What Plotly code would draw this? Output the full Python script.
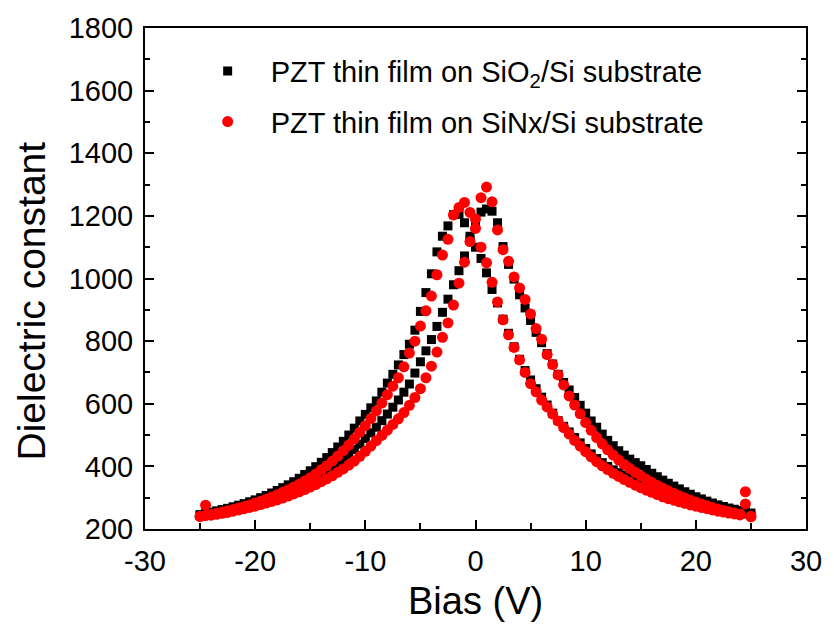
import plotly.graph_objects as go

# Bias sweep points (V)
bias = [-25.0, -24.5, -24.0, -23.5, -23.0, -22.5, -22.0, -21.5, -21.0, -20.5,
        -20.0, -19.5, -19.0, -18.5, -18.0, -17.5, -17.0, -16.5, -16.0, -15.5,
        -15.0, -14.5, -14.0, -13.5, -13.0, -12.5, -12.0, -11.5, -11.0, -10.5,
        -10.0, -9.5, -9.0, -8.5, -8.0, -7.5, -7.0, -6.5, -6.0, -5.5,
        -5.0, -4.5, -4.0, -3.5, -3.0, -2.5, -2.0, -1.5, -1.0, -0.5,
        0.0, 0.5, 1.0, 1.5, 2.0, 2.5, 3.0, 3.5, 4.0, 4.5,
        5.0, 5.5, 6.0, 6.5, 7.0, 7.5, 8.0, 8.5, 9.0, 9.5,
        10.0, 10.5, 11.0, 11.5, 12.0, 12.5, 13.0, 13.5, 14.0, 14.5,
        15.0, 15.5, 16.0, 16.5, 17.0, 17.5, 18.0, 18.5, 19.0, 19.5,
        20.0, 20.5, 21.0, 21.5, 22.0, 22.5, 23.0, 23.5, 24.0, 24.5, 25.0]

# PZT on SiO2/Si : forward sweep (-25 -> 25), values listed at bias order
sio2_fwd = [243, 246, 249, 252, 255, 258, 262, 265, 269, 273,
            277, 282, 287, 292, 298, 304, 311, 318, 325, 334,
            343, 354, 365, 378, 392, 406, 421, 437, 454, 471,
            489, 507, 525, 546, 567, 589, 612, 637, 663, 698,
            734, 769, 805, 847, 892, 934, 980, 1025, 1072, 1122,
            1175, 1212, 1222, 1215, 1178, 1102, 1045, 998, 948, 906,
            866, 828, 795, 760, 727, 694, 668, 644, 620, 595,
            570, 545, 525, 503, 483, 466, 450, 436, 423, 412,
            402, 390, 378, 367, 356, 346, 337, 328, 319, 311,
            303, 296, 289, 283, 277, 272, 267, 263, 259, 255, 251]

# PZT on SiO2/Si : reverse sweep (25 -> -25), values listed at bias order
sio2_rev = [246, 250, 254, 258, 262, 266, 271, 276, 281, 287,
            293, 300, 307, 315, 323, 332, 341, 351, 362, 374,
            386, 399, 413, 428, 444, 462, 480, 500, 522, 545,
            566, 587, 609, 637, 666, 694, 724, 757, 790, 835,
            895, 955, 1015, 1085, 1135, 1168, 1204, 1205, 1178, 1135,
            1100, 1064, 1018, 965, 922, 870, 825, 782, 742, 706,
            676, 648, 621, 596, 570, 546, 528, 510, 492, 475,
            457, 440, 425, 412, 400, 389, 380, 372, 364, 356,
            348, 340, 333, 326, 319, 313, 307, 301, 295, 290,
            285, 280, 275, 271, 267, 263, 259, 255, 252, 248, 245]

# PZT on SiNx/Si : forward sweep
sinx_fwd = [240, 276, 244, 247, 250, 253, 257, 261, 265, 269,
            273, 278, 283, 288, 293, 299, 305, 312, 319, 326,
            334, 342, 351, 360, 370, 381, 392, 404, 417, 432,
            448, 465, 482, 499, 516, 534, 552, 572, 595, 620,
            648, 683, 720, 765, 812, 858, 915, 985, 1052, 1118,
            1190, 1258, 1292, 1245, 1155, 1092, 1055, 1005, 970, 933,
            887, 840, 806, 757, 725, 692, 660, 625, 596, 568,
            540, 515, 492, 472, 453, 436, 420, 406, 393, 381,
            370, 359, 349, 339, 330, 322, 314, 306, 299, 292,
            286, 280, 274, 269, 264, 259, 255, 251, 248, 280, 241]

# PZT on SiNx/Si : reverse sweep
sinx_rev = [240, 243, 246, 250, 254, 258, 262, 267, 272, 277,
            283, 289, 295, 302, 309, 317, 325, 334, 343, 353,
            364, 376, 389, 402, 417, 433, 450, 468, 488, 509,
            530, 553, 577, 602, 629, 656, 683, 718, 762, 800,
            848, 897, 944, 1012, 1075, 1125, 1203, 1227, 1243, 1211,
            1160, 1100, 1050, 988, 925, 868, 820, 780, 740, 700,
            664, 638, 612, 590, 567, 545, 524, 503, 483, 465,
            447, 430, 415, 402, 390, 378, 368, 358, 349, 340,
            332, 324, 317, 310, 303, 297, 292, 287, 282, 277,
            273, 269, 265, 261, 257, 254, 251, 248, 245, 319, 239]

x_ticks = [-30, -20, -10, 0, 10, 20, 30]
x_tick_labels = ["-30", "-20", "-10", "0", "10", "20", "30"]
y_ticks = [200, 400, 600, 800, 1000, 1200, 1400, 1600, 1800]

FONT = "Liberation Sans, Arial, sans-serif"

fig = go.Figure()
fig.add_trace(go.Scatter(
    x=bias + bias, y=sio2_fwd + sio2_rev, mode="markers",
    name="PZT thin film on SiO<sub>2</sub>/Si substrate",
    marker=dict(symbol="square", size=9, color="black", line=dict(width=0)),
    legendgroup="a"))
fig.add_trace(go.Scatter(
    x=bias + bias, y=sinx_fwd + sinx_rev, mode="markers",
    name="PZT thin film on SiNx/Si substrate",
    marker=dict(symbol="circle", size=11, color="#ff0000", line=dict(width=0)),
    legendgroup="b"))

axis_common = dict(
    showline=True, linecolor="black", linewidth=2,
    ticks="inside", ticklen=9, tickwidth=2, tickcolor="black",
    showgrid=False, zeroline=False,
    tickfont=dict(family=FONT, size=29, color="black"),
)

fig.update_xaxes(range=[-30, 30], tickvals=x_ticks, ticktext=x_tick_labels, mirror=True,
                 minor=dict(ticks="inside", ticklen=6, tickwidth=2, dtick=5, tick0=0,
                            tickcolor="black", showgrid=False),
                 ticklabelstandoff=5, **axis_common)
fig.update_yaxes(range=[200, 1800], tickvals=y_ticks, mirror="allticks",
                 minor=dict(ticks="inside", ticklen=5, tickwidth=2, dtick=100, tick0=0,
                            tickcolor="black", showgrid=False),
                 ticklabelstandoff=4, **axis_common)

fig.add_annotation(text="Dielectric constant", xref="paper", yref="paper",
                   x=-0.171, y=0.456, textangle=-90, showarrow=False,
                   xanchor="center", yanchor="middle",
                   font=dict(family=FONT, size=39, color="black"))
fig.add_annotation(text="Bias (V)", xref="paper", yref="paper",
                   x=0.5, y=-0.143, showarrow=False,
                   xanchor="center", yanchor="middle",
                   font=dict(family=FONT, size=38, color="black"))

fig.update_layout(
    width=834, height=630,
    margin=dict(l=145, r=19, t=27, b=101),
    paper_bgcolor="white", plot_bgcolor="white",
    showlegend=True,
    legend=dict(x=0.06, y=0.965, xanchor="left", yanchor="top",
                bgcolor="rgba(0,0,0,0)", borderwidth=0,
                font=dict(family=FONT, size=29, color="black"),
                itemwidth=76, traceorder="grouped", tracegroupgap=10),
)

fig.write_html("out.html")
